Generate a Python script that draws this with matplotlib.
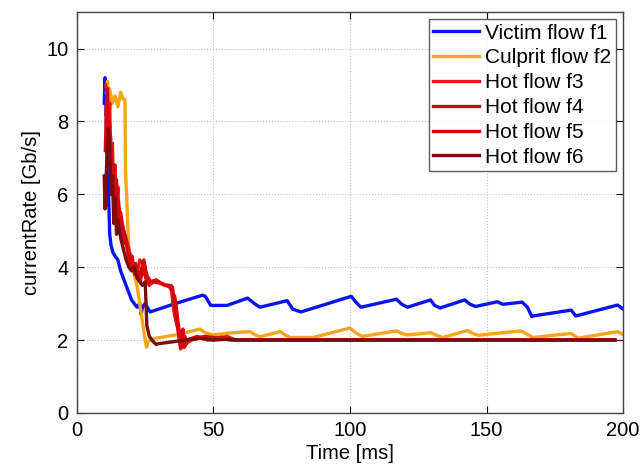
import matplotlib.pyplot as plt

plt.rcParams['font.family'] = ['Liberation Sans', 'DejaVu Sans']

# Victim flow f1
t1 = [10.0, 10.3, 10.6, 11.0, 11.4, 11.6, 12.0, 12.5, 13.2, 14, 15, 16, 17, 18, 19, 20, 21,
      22, 23, 23.5, 24, 25, 26.8, 36, 46, 47, 49, 55, 62.5, 65, 67, 77, 79, 82, 100.5, 102,
      104, 117, 119, 121, 129.5, 131, 133, 142, 144, 146, 154, 156, 163, 165, 166.6, 167,
      181, 182.7, 198, 200]
y1 = [8.5, 9.2, 8.7, 7.0, 5.7, 6.0, 4.9, 4.6, 4.4, 4.3, 4.2, 3.9, 3.7, 3.5, 3.3, 3.1, 3.0,
      2.9, 3.0, 2.7, 2.9, 3.0, 2.77, 3.0, 3.23, 3.2, 2.95, 2.95, 3.15, 3.0, 2.9, 3.08, 2.85,
      2.77, 3.2, 3.05, 2.9, 3.12, 2.98, 2.9, 3.1, 2.95, 2.88, 3.1, 2.98, 2.92, 3.05, 2.98,
      3.04, 2.9, 2.64, 2.66, 2.82, 2.66, 2.96, 2.85]

# Culprit flow f2
t2 = [10.8, 11.2, 11.6, 12.0, 13, 14, 15, 16, 17.0, 17.6, 17.8, 18.2, 18.6, 19, 19.5, 20, 21,
      22, 23, 24, 25, 25.5, 26, 27, 29, 37, 45, 47, 50, 57, 63.5, 65, 67, 74.5, 76, 78, 86.6,
      100, 102, 104.5, 117, 119, 121, 129.5, 132, 134, 143, 145, 147, 162.6, 165, 167, 181,
      183.5, 198, 200]
y2 = [8.8, 9.1, 8.4, 8.9, 8.5, 8.7, 8.4, 8.8, 8.6, 8.6, 6.6, 6.0, 5.2, 4.5, 4.2, 4.0, 3.8,
      3.5, 3.0, 2.5, 2.0, 1.8, 1.95, 2.0, 2.05, 2.15, 2.3, 2.2, 2.14, 2.2, 2.23, 2.15, 2.09,
      2.23, 2.15, 2.07, 2.07, 2.33, 2.2, 2.1, 2.25, 2.18, 2.14, 2.2, 2.12, 2.07, 2.26, 2.18,
      2.13, 2.25, 2.15, 2.07, 2.18, 2.05, 2.23, 2.15]

# Hot flows f3, f4, f5
t3 = [10.5, 11, 11.5, 12, 12.5, 13, 13.5, 14, 14.5, 15, 15.5, 16, 17, 18, 19, 20, 21, 22, 23,
      24, 25, 26, 27, 30, 32, 34.5, 35, 35.5, 36, 37, 37.5, 38, 38.5, 39, 39.5, 40, 42, 45,
      50, 55, 58, 197]
y3 = [9.0, 8.8, 7.5, 8.5, 6.5, 7.4, 5.9, 6.8, 5.6, 6.2, 5.2, 5.5, 5.0, 4.8, 4.5, 4.2, 4.0,
      3.8, 4.2, 4.1, 3.9, 3.7, 3.6, 3.6, 3.5, 3.5, 3.1, 2.8, 2.6, 2.3, 2.0, 1.75, 2.05, 1.8,
      2.1, 1.9, 2.0, 2.05, 2.0, 2.1, 2.0, 2.0]

t4 = [10.6, 11.2, 11.8, 12.3, 13, 13.5, 14, 14.5, 15, 15.5, 16.5, 17.5, 18.5, 19.5, 20.5,
      21.5, 22.5, 23.5, 24.5, 25.5, 27, 29, 31, 33, 35, 35.6, 36.2, 36.8, 37.4, 38, 38.6,
      39.2, 40, 43, 47, 52, 56, 60, 197]
y4 = [8.2, 8.9, 6.8, 7.6, 6.2, 6.8, 5.4, 6.4, 5.3, 5.6, 5.2, 4.9, 4.5, 4.3, 3.9, 4.1, 3.7,
      3.9, 4.2, 3.8, 3.6, 3.65, 3.55, 3.5, 3.45, 3.0, 2.7, 2.4, 2.1, 1.8, 2.2, 1.85, 2.0,
      2.05, 2.1, 2.05, 2.0, 2.0, 2.0]

t5 = [10.4, 10.9, 11.4, 11.9, 12.6, 13.3, 14.2, 15.2, 16.2, 17.2, 18.2, 19.2, 20.2, 21.2,
      22.2, 23.2, 24.2, 25.2, 26.5, 28, 31, 34, 35.8, 36.4, 37, 37.6, 38.2, 38.8, 39.4, 40.5,
      44, 48, 53, 57, 197]
y5 = [7.2, 8.6, 7.0, 8.0, 6.0, 6.6, 5.5, 5.8, 5.0, 4.7, 4.6, 4.1, 4.3, 3.8, 3.9, 3.6, 4.0,
      3.7, 3.5, 3.6, 3.55, 3.45, 3.2, 2.9, 2.5, 2.2, 1.9, 2.3, 1.8, 2.0, 2.1, 2.0, 2.08, 2.0,
      2.0]

# Hot flow f6
t6 = [10.0, 10.3, 10.6, 11, 11.5, 12, 12.5, 13, 13.5, 14, 14.5, 15, 16, 17, 18, 19, 20, 21,
      22, 23, 24, 25, 25.3, 25.6, 26.5, 28, 29, 30, 35, 40, 45, 50, 55, 60, 197]
y6 = [6.5, 5.6, 6.3, 7.0, 7.8, 7.2, 6.0, 6.5, 5.2, 5.9, 4.9, 5.3, 4.8, 4.5, 4.2, 4.0, 3.9,
      4.0, 3.7, 3.6, 3.5, 3.6, 3.0, 2.4, 2.1, 1.95, 1.88, 1.9, 1.95, 2.0, 2.05, 2.0, 2.02,
      2.0, 2.0]

series = [
    (t1, y1, '#0a14f0', 'Victim flow f1'),
    (t2, y2, '#f7a51c', 'Culprit flow f2'),
    (t3, y3, '#e41b1b', 'Hot flow f3'),
    (t4, y4, '#c80c14', 'Hot flow f4'),
    (t5, y5, '#dc0404', 'Hot flow f5'),
    (t6, y6, '#7d0d0d', 'Hot flow f6'),
]

fig = plt.figure(figsize=(6.41, 4.66), dpi=100)
ax = fig.add_axes([0.120, 0.114, 0.852, 0.860])

for t, y, c, lab in series:
    ax.plot(t, y, color=c, lw=2.4, label=lab)

ax.set_xlim(0, 200)
ax.set_ylim(0, 11)
ax.set_xticks([0, 50, 100, 150, 200])
ax.set_yticks([0, 2, 4, 6, 8, 10])
ax.grid(True, linestyle=':', color='#c0c0c0', lw=0.8)
ax.tick_params(direction='in', top=True, right=True, labelsize=14.5, length=5, pad=6)
for s in ax.spines.values():
    s.set_color('#444444')
    s.set_linewidth(1.0)

ax.set_xlabel('Time [ms]', fontsize=14.5, labelpad=3)
ax.set_ylabel('currentRate [Gb/s]', fontsize=14.5, labelpad=4)

leg = ax.legend(loc='upper right', fontsize=15, frameon=True, fancybox=False,
                edgecolor='#333333', handlelength=2.2, handletextpad=0.3,
                labelspacing=0.28, borderpad=0.2, borderaxespad=0.35)
leg.get_frame().set_linewidth(1.0)

fig.savefig('out.png', dpi=100)
